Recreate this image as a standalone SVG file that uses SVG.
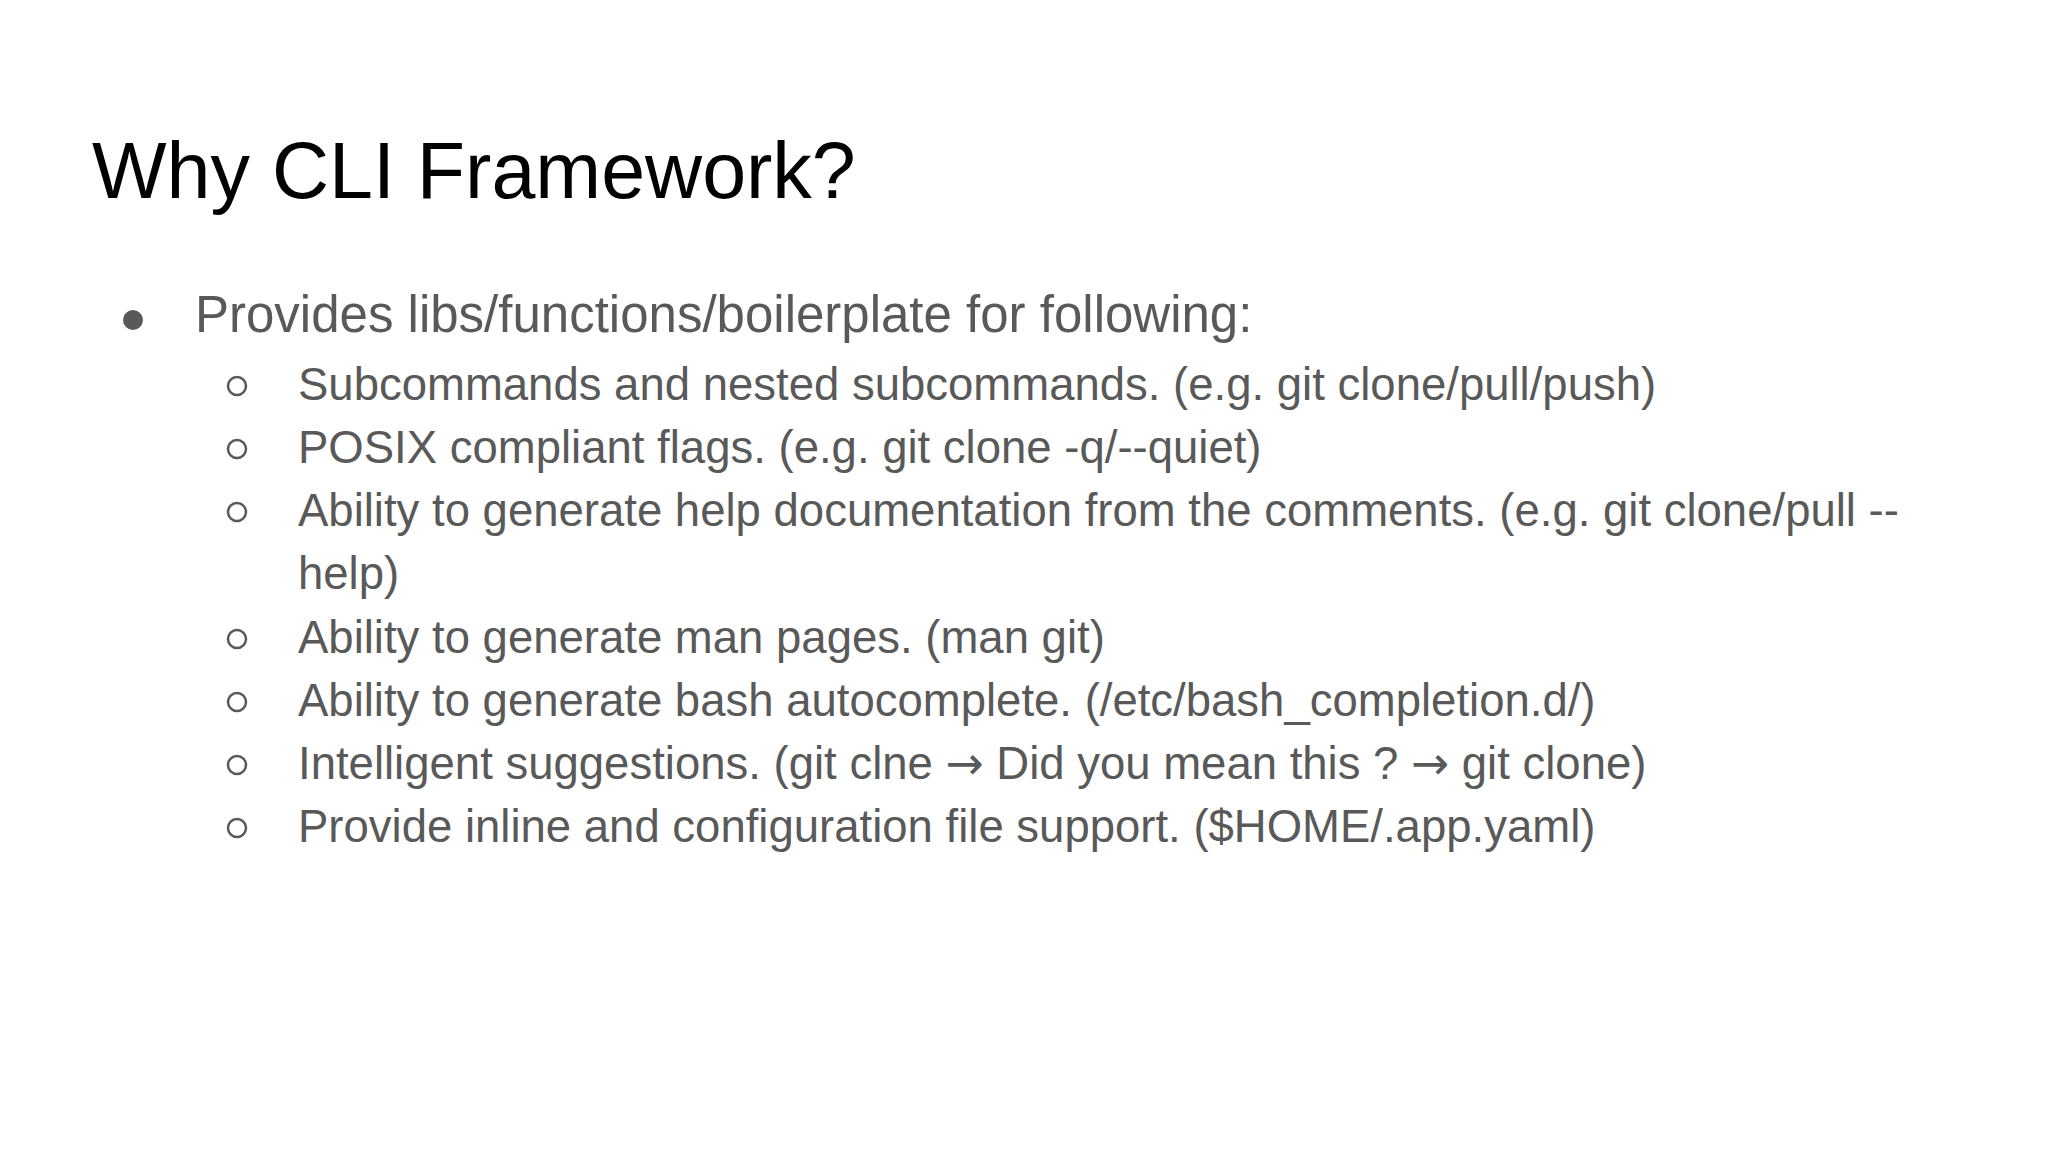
<svg xmlns="http://www.w3.org/2000/svg" width="2048" height="1152" viewBox="0 0 2048 1152">
<style>
.t{font-family:"Liberation Sans",Arial,sans-serif;fill:#000;font-size:79px}
.b{font-family:"Liberation Sans",Arial,sans-serif;fill:#595959;font-size:51px}
.s{font-family:"Liberation Sans",Arial,sans-serif;fill:#595959;font-size:45.5px}
.a{font-family:"DejaVu Sans",sans-serif}
</style>
<rect width="2048" height="1152" fill="#fff"/>
<g id="title"><text class="t" x="92" y="198">Why CLI Framework?</text></g>
<g id="list">
<circle cx="133" cy="320" r="10" fill="#595959"/>
<text class="b" x="195" y="332">Provides libs/functions/boilerplate for following:</text>
<g fill="none" stroke="#595959" stroke-width="2.5">
<circle cx="237" cy="386" r="9"/><circle cx="237" cy="449" r="9"/><circle cx="237" cy="512" r="9"/>
<circle cx="237" cy="639" r="9"/><circle cx="237" cy="702" r="9"/><circle cx="237" cy="765" r="9"/><circle cx="237" cy="828" r="9"/>
</g>
<text class="s" x="298" y="400">Subcommands and nested subcommands. (e.g. git clone/pull/push)</text>
<text class="s" x="298" y="463">POSIX compliant flags. (e.g. git clone -q/--quiet)</text>
<text class="s" x="298" y="526">Ability to generate help documentation from the comments. (e.g. git clone/pull --</text>
<text class="s" x="298" y="589">help)</text>
<text class="s" x="298" y="653">Ability to generate man pages. (man git)</text>
<text class="s" x="298" y="716">Ability to generate bash autocomplete. (/etc/bash_completion.d/)</text>
<text class="s" x="298" y="779">Intelligent suggestions. (git clne <tspan class="a">→</tspan> Did you mean this ? <tspan class="a">→</tspan> git clone)</text>
<text class="s" x="298" y="842">Provide inline and configuration file support. ($HOME/.app.yaml)</text>
</g>
</svg>
